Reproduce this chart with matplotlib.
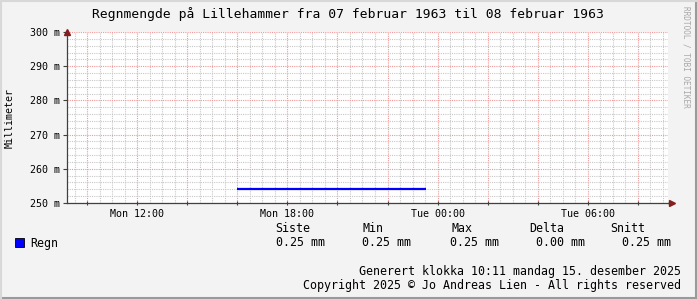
import matplotlib
matplotlib.use("Agg")
import matplotlib.pyplot as plt
from matplotlib.ticker import MultipleLocator, FuncFormatter
from matplotlib.patches import Rectangle
from matplotlib.lines import Line2D

# hours counted from Monday 00:00
x_start = 9.2
x_end = 33.2
rain_hours = [16.0, 23.55]
rain_values = [0.254, 0.254]

tick_names = {12: "Mon 12:00", 18: "Mon 18:00", 24: "Tue 00:00", 30: "Tue 06:00"}

legend_headers = ["Siste", "Min", "Max", "Delta", "Snitt"]
legend_values = ["0.25 mm", "0.25 mm", "0.25 mm", "0.00 mm", "0.25 mm"]

W, H = 697, 299
mono = "DejaVu Sans Mono"
plt.rcParams['font.family'] = mono

fig = plt.figure(figsize=(W / 100, H / 100), dpi=100, facecolor="#f3f3f3")
ax = fig.add_axes([67 / W, 96 / H, 601 / W, 171 / H])
ax.set_facecolor("white")

ax.plot(rain_hours, rain_values, color="#0000ff", linewidth=1.6, solid_capstyle="butt", zorder=3)

ax.set_xlim(x_start, x_end)
ax.set_ylim(0.25, 0.30)

# grid like rrdtool: minor grey, major pink
ax.xaxis.set_major_locator(MultipleLocator(2))
ax.xaxis.set_minor_locator(MultipleLocator(0.5))
ax.yaxis.set_major_locator(MultipleLocator(0.01))
ax.yaxis.set_minor_locator(MultipleLocator(0.002))
ax.grid(which="minor", color="#c8c8c8", linestyle=(0, (1, 1)), linewidth=0.8)
ax.grid(which="major", color="#ee9999", linestyle=(0, (1, 1)), linewidth=0.8)
ax.set_axisbelow(True)

ax.xaxis.set_major_formatter(FuncFormatter(lambda v, p: tick_names.get(int(round(v)), "")))
ax.yaxis.set_major_formatter(FuncFormatter(lambda v, p: "%d m" % round(v * 1000)))
ax.tick_params(which="major", length=3, width=0.8, color="#404040", labelsize=7.2, pad=2)
ax.tick_params(which="minor", length=0)
ax.tick_params(axis="x", direction="inout", pad=3)
ax.tick_params(axis="y", direction="out")

for s in ["top", "right"]:
    ax.spines[s].set_visible(False)
for s in ["left", "bottom"]:
    ax.spines[s].set_color("#404040")
    ax.spines[s].set_linewidth(0.9)

# axis arrows
ax.plot([0], [1.0], marker="^", color="#8b1a1a", markersize=5, transform=ax.transAxes, clip_on=False)
ax.plot([1.006], [0], marker=">", color="#8b1a1a", markersize=5, transform=ax.transAxes, clip_on=False)
ax.add_line(Line2D([1.0, 1.006], [0, 0], color="#404040", linewidth=0.9, transform=ax.transAxes, clip_on=False))

fig.text(10 / W, 1 - 118 / H, "Millimeter", rotation=90, ha="center", va="center", fontsize=7.2)

fig.text(348 / W, 1 - 14 / H, "Regnmengde på Lillehammer fra 07 februar 1963 til 08 februar 1963",
         ha="center", va="center", fontsize=9.4, color="black")
fig.text(686 / W, 1 - 6 / H, "RRDTOOL / TOBI OETIKER", rotation=-90, ha="center", va="top",
         fontsize=5.6, color="#a8a8a8")

# legend
fig.patches.append(Rectangle((15 / W, 1 - 247 / H), 9 / W, 9 / H, facecolor="#0000ff",
                             edgecolor="black", linewidth=0.6, transform=fig.transFigure))
fig.text(30 / W, 1 - 243 / H, "Regn", ha="left", va="center", fontsize=8.4)
header_x = [293, 373, 462, 547, 628]
value_x = [301, 387, 474, 560, 646]
for hx, vx, h, v in zip(header_x, value_x, legend_headers, legend_values):
    fig.text(hx / W, 1 - 229 / H, h, ha="center", va="center", fontsize=8.4)
    fig.text(vx / W, 1 - 243 / H, v, ha="center", va="center", fontsize=8.4)

fig.text(681 / W, 1 - 271 / H, "Generert klokka 10:11 mandag 15. desember 2025",
         ha="right", va="center", fontsize=8.4)
fig.text(681 / W, 1 - 286 / H, "Copyright 2025 \u00a9 Jo Andreas Lien - All rights reserved",
         ha="right", va="center", fontsize=8.4)

# outer frame
fig.add_artist(Line2D([0, 1], [1 / H, 1 / H], color="#9a9a9a", linewidth=1.5, transform=fig.transFigure))
fig.add_artist(Line2D([1 - 1 / W, 1 - 1 / W], [0, 1], color="#9a9a9a", linewidth=1.5, transform=fig.transFigure))
fig.add_artist(Line2D([0, 1], [1 - 1 / H, 1 - 1 / H], color="#d8d8d8", linewidth=1.5, transform=fig.transFigure))
fig.add_artist(Line2D([1 / W, 1 / W], [0, 1], color="#d8d8d8", linewidth=1.5, transform=fig.transFigure))

fig.savefig("out.png", dpi=100, facecolor=fig.get_facecolor())
